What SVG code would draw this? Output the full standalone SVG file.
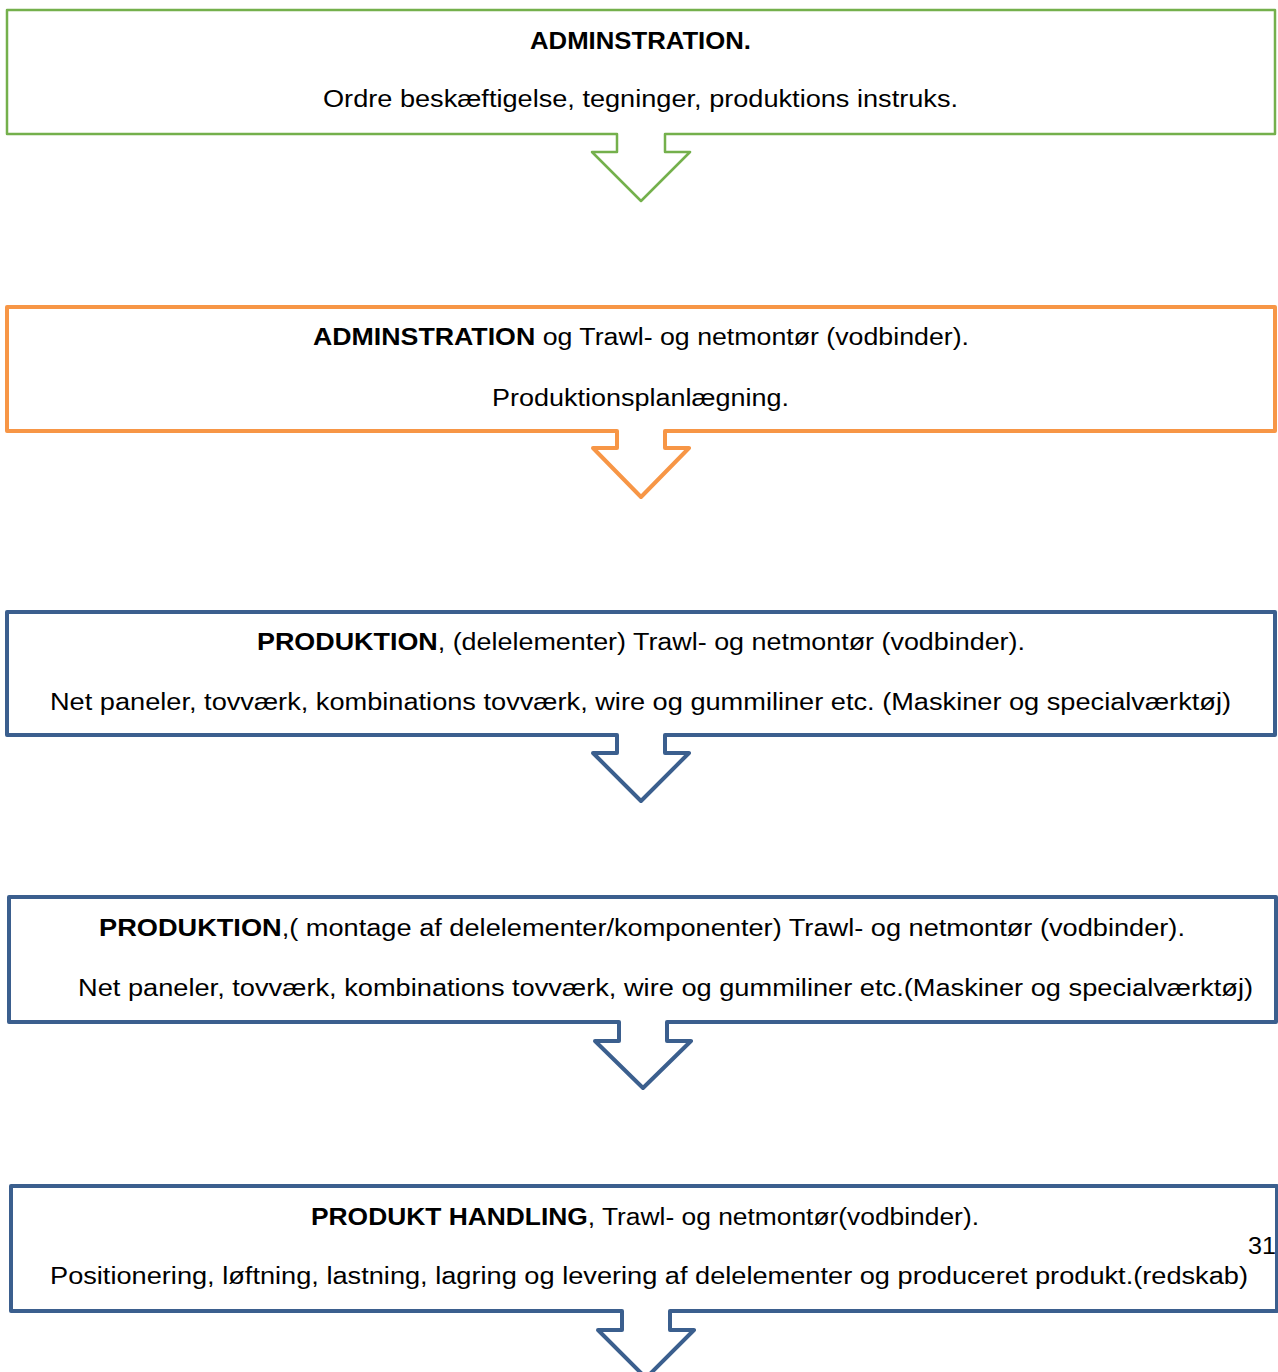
<svg xmlns="http://www.w3.org/2000/svg" width="1278" height="1372" viewBox="0 0 1278 1372">
<style>
.t{font-family:"Liberation Sans",Arial,sans-serif;font-size:23px;fill:#000}
.b{font-weight:bold}
.box{fill:#fff;stroke-linejoin:round}
.green{stroke:#74B04C;stroke-width:2.5}
.orange{stroke:#F79646;stroke-width:4}
.blue{stroke:#3B5F8E;stroke-width:4}
</style>
<rect width="1278" height="1372" fill="#fff"/>
<g id="node1">
<path class="box green" d="M617,134 L617,152 L592,152 L641,201 L690,152 L665,152 L665,134 L1275,134 L1275,10 L7,10 L7,134 Z"/>
<text class="t b" x="530" y="49" textLength="221" lengthAdjust="spacingAndGlyphs">ADMINSTRATION.</text>
<text class="t" x="323" y="107" textLength="635" lengthAdjust="spacingAndGlyphs">Ordre beskæftigelse, tegninger, produktions instruks.</text>
</g>
<g id="node2">
<path class="box orange" d="M617,431 L617,448 L593,448 L641,497 L689,448 L665,448 L665,431 L1275,431 L1275,307 L7,307 L7,431 Z"/>
<text class="t" x="313" y="345" textLength="656" lengthAdjust="spacingAndGlyphs"><tspan class="b">ADMINSTRATION</tspan> og Trawl- og netmontør (vodbinder).</text>
<text class="t" x="492" y="406" textLength="297" lengthAdjust="spacingAndGlyphs">Produktionsplanlægning.</text>
</g>
<g id="node3">
<path class="box blue" d="M617,735 L617,753 L593,753 L641,801 L689,753 L665,753 L665,735 L1275,735 L1275,612 L7,612 L7,735 Z"/>
<text class="t" x="257" y="650" textLength="768" lengthAdjust="spacingAndGlyphs"><tspan class="b">PRODUKTION</tspan>, (delelementer) Trawl- og netmontør (vodbinder).</text>
<text class="t" x="50" y="710" textLength="1181" lengthAdjust="spacingAndGlyphs">Net paneler, tovværk, kombinations tovværk, wire og gummiliner etc. (Maskiner og specialværktøj)</text>
</g>
<g id="node4">
<path class="box blue" d="M619,1022 L619,1041 L595,1041 L643,1088 L691,1041 L667,1041 L667,1022 L1276,1022 L1276,897 L9,897 L9,1022 Z"/>
<text class="t" x="99" y="936" textLength="1086" lengthAdjust="spacingAndGlyphs"><tspan class="b">PRODUKTION</tspan>,( montage af delelementer/komponenter) Trawl- og netmontør (vodbinder).</text>
<text class="t" x="78" y="996" textLength="1175" lengthAdjust="spacingAndGlyphs">Net paneler, tovværk, kombinations tovværk, wire og gummiliner etc.(Maskiner og specialværktøj)</text>
</g>
<g id="node5">
<path class="box blue" d="M622,1311 L622,1330 L598,1330 L646,1378 L694,1330 L670,1330 L670,1311 L1277,1311 L1277,1186 L11,1186 L11,1311 Z"/>
<text class="t" x="311" y="1225" textLength="668" lengthAdjust="spacingAndGlyphs"><tspan class="b">PRODUKT HANDLING</tspan>, Trawl- og netmontør(vodbinder).</text>
<text class="t" x="50" y="1284" textLength="1198" lengthAdjust="spacingAndGlyphs">Positionering, løftning, lastning, lagring og levering af delelementer og produceret produkt.(redskab)</text>
</g>
<g id="connectors"></g>
<text class="t" x="1248" y="1254" textLength="28" lengthAdjust="spacingAndGlyphs">31</text>
</svg>
